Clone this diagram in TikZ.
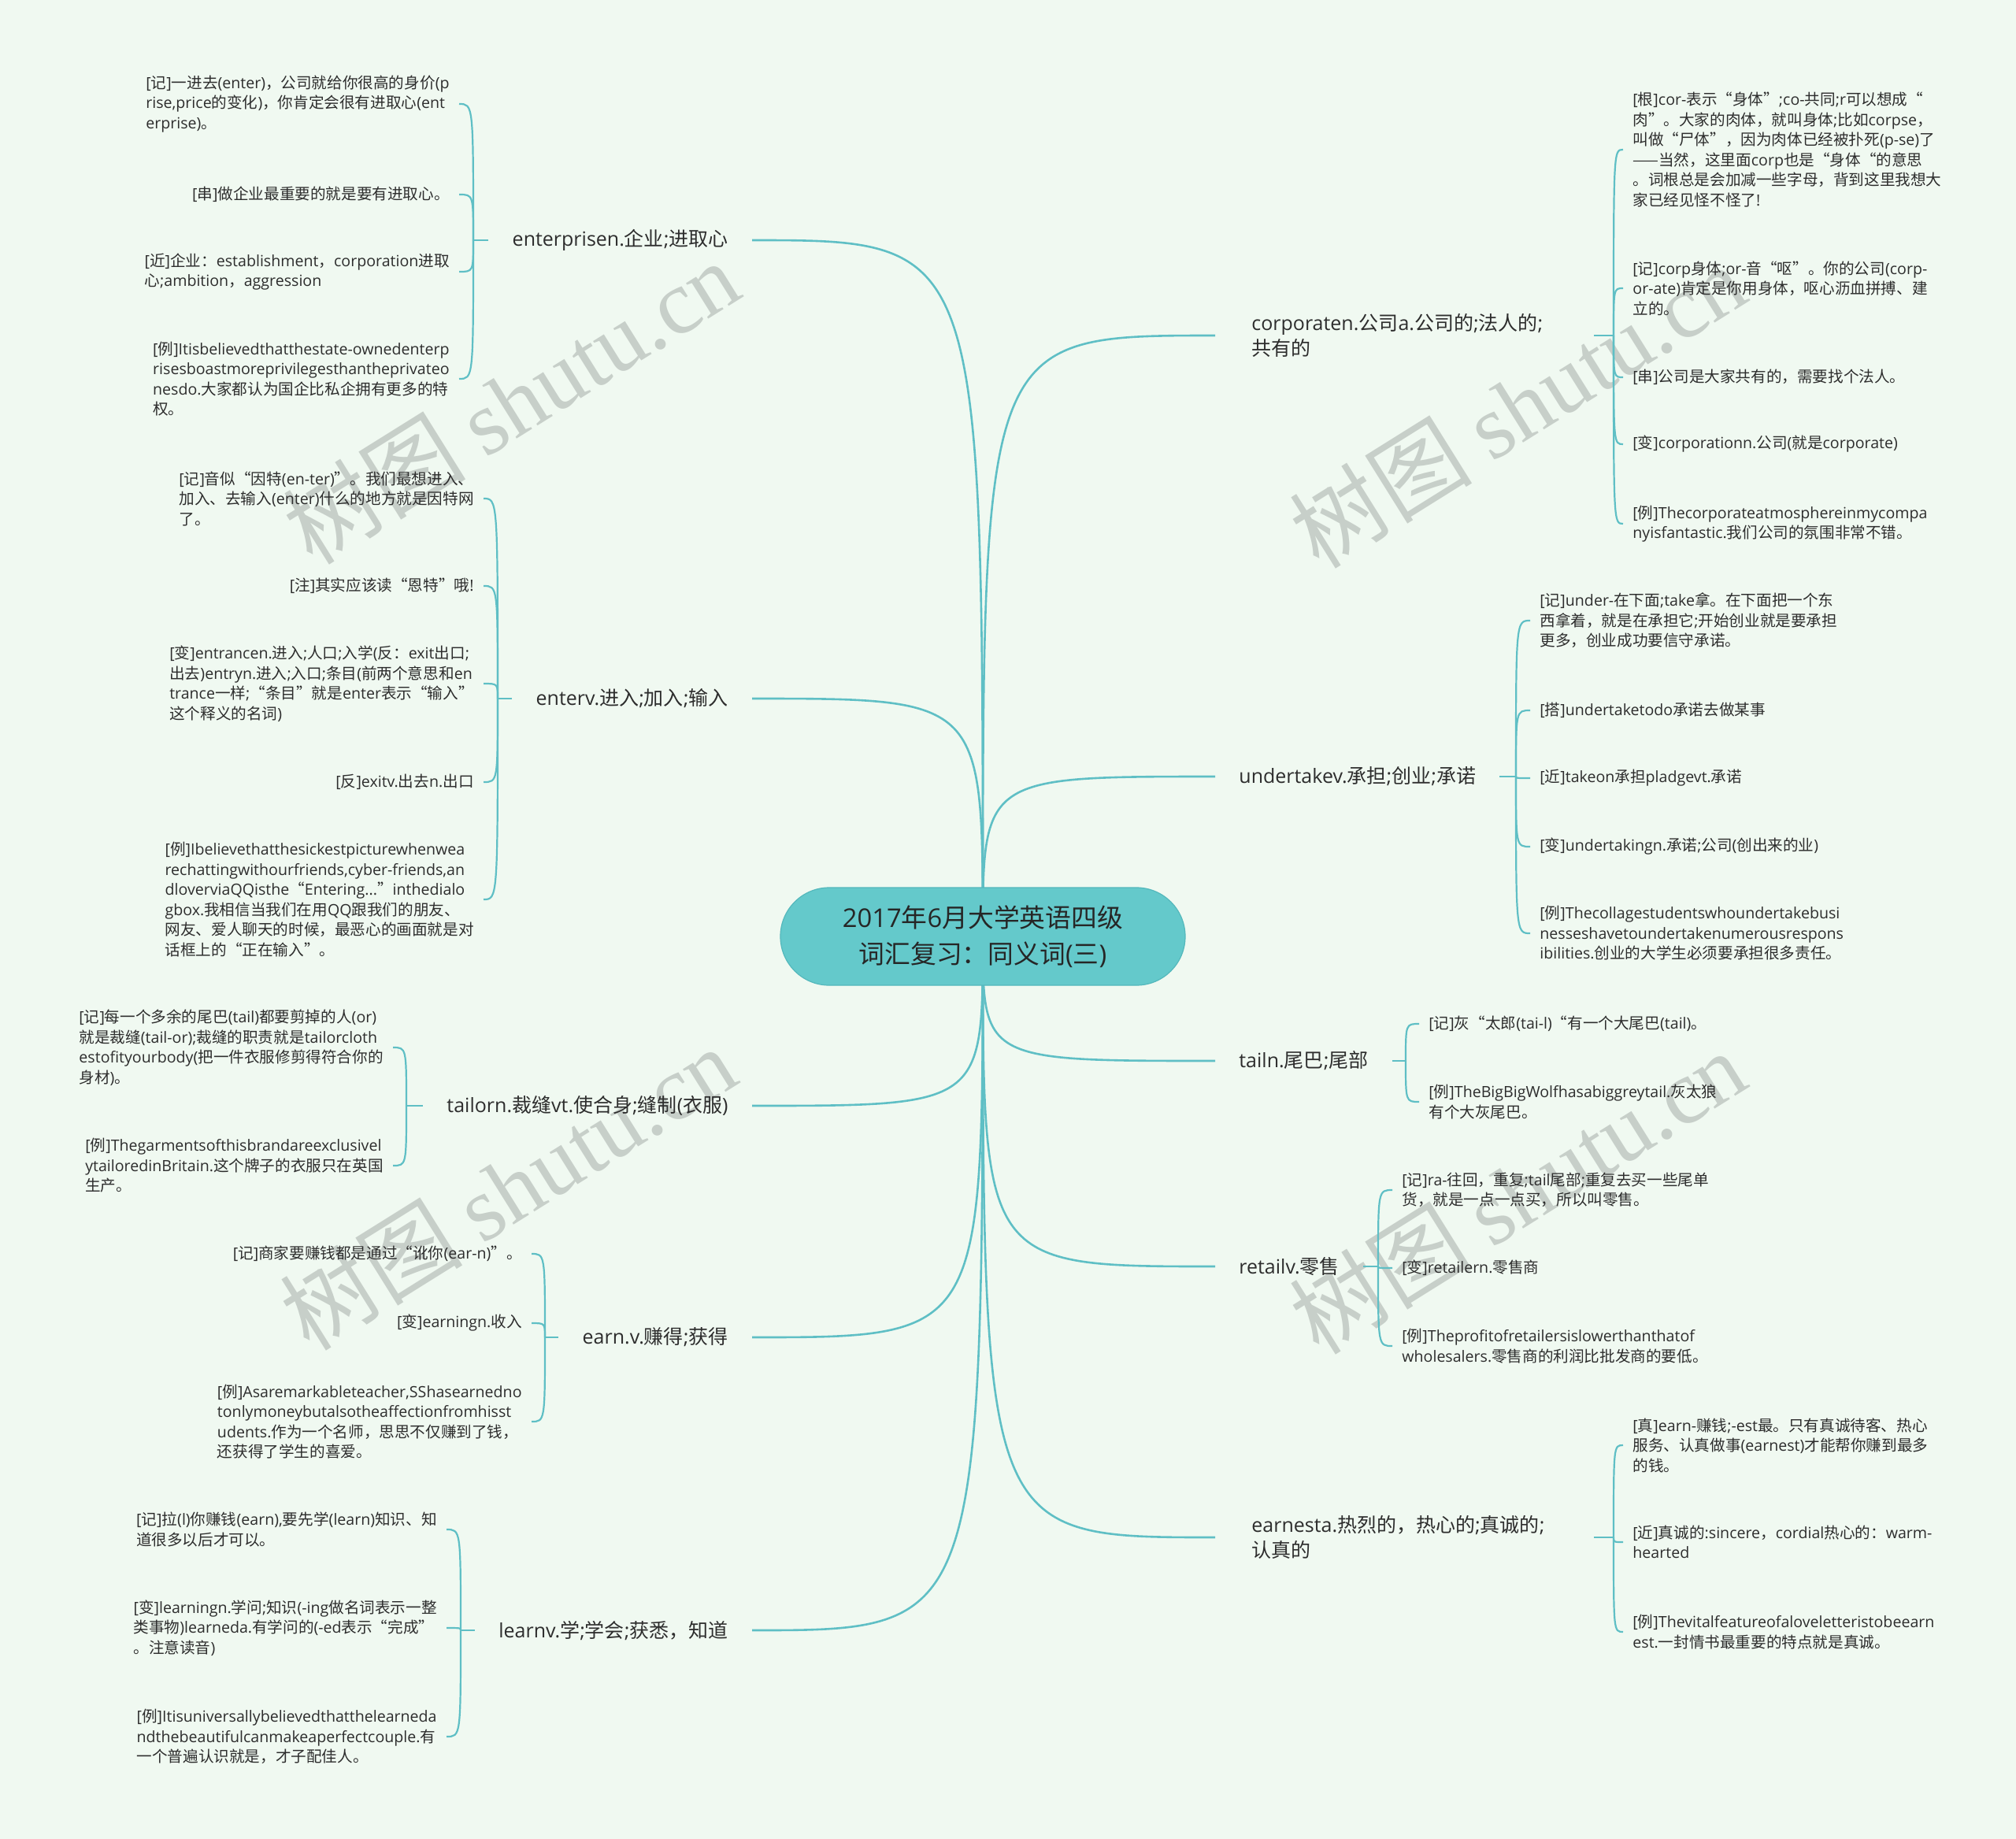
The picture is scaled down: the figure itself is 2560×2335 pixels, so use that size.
\documentclass[tikz,border=0pt]{standalone}
\usepackage{fontspec}
\setmainfont{Open Sans}
\newfontfamily\latinfont{Open Sans}
\newfontfamily\cjkfont{Noto Sans CJK SC}
\newfontfamily\wmfont{Liberation Serif}
\usetikzlibrary{positioning,calc}

\definecolor{bgc}{RGB}{240,249,241}
\definecolor{linkc}{RGB}{95,191,197}
\definecolor{rootfill}{RGB}{100,201,203}
\definecolor{rootline}{RGB}{84,184,188}
\definecolor{wmc}{RGB}{199,207,201}
\definecolor{txt}{RGB}{45,45,45}

% Chinese characters in the CJK face, the rest in Open Sans
\XeTeXinterchartokenstate=1
\newXeTeXintercharclass\cjkclass
\newcount\cjkcode
\newcommand\setcjkrange[2]{%
  \cjkcode=#1
  \loop
    \XeTeXcharclass\cjkcode=\cjkclass
  \ifnum\cjkcode<#2 \advance\cjkcode by 1
  \repeat}
\setcjkrange{"3000}{"303F}
\setcjkrange{"4E00}{"9FFF}
\setcjkrange{"FF00}{"FFEF}
\setcjkrange{"2014}{"2014}
\setcjkrange{"2018}{"201D}
\XeTeXinterchartoks 0 \cjkclass = {\cjkfont}
\XeTeXinterchartoks 4095 \cjkclass = {\cjkfont}
\XeTeXinterchartoks \cjkclass 0 = {\latinfont}
\XeTeXinterchartoks 4095 0 = {\latinfont}

\pgfdeclarelayer{wm}
\pgfdeclarelayer{back}
\pgfsetlayers{wm,back,main}

\begin{document}
\begin{tikzpicture}[x=0.5pt,y=-0.5pt,
  rootbox/.style={draw=rootline, line width=0.6pt, fill=rootfill, rounded corners=31pt, minimum width=257pt, minimum height=62pt, align=center, text=black!85, font=\fontsize{16.4}{23.3}\selectfont},
  topic/.style={inner xsep=15pt, inner ysep=2pt, align=left, text=txt, font=\fontsize{12.5}{16.3}\selectfont},
  widetopic/.style={topic, inner xsep=23pt, text width=194pt},
  note/.style={inner xsep=6pt, inner ysep=1pt, align=left, text=txt, font=\fontsize{9.8}{12.75}\selectfont},
  notel/.style={note, anchor=east},
  noter/.style={note, anchor=west},
  link/.style={draw=linkc, line width=1.3pt},
  twig/.style={draw=linkc, line width=1.1pt},
  wmark/.style={text=wmc, rotate=32, font=\fontsize{58}{58}\selectfont},
]
  \useasboundingbox (0,0) rectangle (2560,2335);

  \begin{pgfonlayer}{wm}
    \fill[bgc] (0,0) rectangle (2560,2335);
    \node[wmark] (wm1) at (649,510) {\XeTeXinterchartokenstate=0 \cjkfont 树图 \wmfont shutu.cn};
    \node[wmark] (wm2) at (1927,515) {\XeTeXinterchartokenstate=0 \cjkfont 树图 \wmfont shutu.cn};
    \node[wmark] (wm3) at (645,1508) {\XeTeXinterchartokenstate=0 \cjkfont 树图 \wmfont shutu.cn};
    \node[wmark] (wm4) at (1927,1513) {\XeTeXinterchartokenstate=0 \cjkfont 树图 \wmfont shutu.cn};
  \end{pgfonlayer}

  \node[rootbox] (root) at (1248,1189) {2017年6月大学英语四级\\词汇复习：同义词(三)};

  % left side
  \node[topic, anchor=east] (ep) at (955,305) {enterprisen.企业;进取心};
  \node[topic, anchor=east] (en) at (955,887) {enterv.进入;加入;输入};
  \node[topic, anchor=east] (tl) at (955,1404) {tailorn.裁缝vt.使合身;缝制(衣服)};
  \node[topic, anchor=east] (ea) at (955,1698) {earn.v.赚得;获得};
  \node[topic, anchor=east] (lr) at (955,2070) {learnv.学;学会;获悉，知道};

  % right side
  \node[widetopic, anchor=west] (cp) at (1543,426) {corporaten.公司a.公司的;法人的;\\共有的};
  \node[topic, anchor=west] (ut) at (1543,986) {undertakev.承担;创业;承诺};
  \node[topic, anchor=west] (ta) at (1543,1347) {tailn.尾巴;尾部};
  \node[topic, anchor=west] (rt) at (1543,1608) {retailv.零售};
  \node[widetopic, anchor=west] (et) at (1543,1952) {earnesta.热烈的，热心的;真诚的;\\认真的};

  \coordinate (epj) at (601,305);
  \coordinate (enj) at (632,887);
  \coordinate (tlj) at (516,1404);
  \coordinate (eaj) at (692,1698);
  \coordinate (lrj) at (585,2070);
  \coordinate (cpj) at (2049,426);
  \coordinate (utj) at (1925,986);
  \coordinate (taj) at (1785,1347);
  \coordinate (rtj) at (1750,1608);
  \coordinate (etj) at (2049,1952);

  \node[notel] (ep1) at (583,132) {[记]一进去(enter)，公司就给你很高的身价(p\\rise,price的变化)，你肯定会很有进取心(ent\\erprise)。};
  \node[notel] (ep2) at (583,247) {[串]做企业最重要的就是要有进取心。};
  \node[notel] (ep3) at (583,345) {[近]企业：establishment，corporation进取\\心;ambition，aggression};
  \node[notel] (ep4) at (583,481) {[例]Itisbelievedthatthestate-ownedenterp\\risesboastmoreprivilegesthantheprivateo\\nesdo.大家都认为国企比私企拥有更多的特\\权。};

  \node[notel] (en1) at (614,633) {[记]音似“因特(en-ter)”。我们最想进入、\\加入、去输入(enter)什么的地方就是因特网\\了。};
  \node[notel] (en2) at (614,744) {[注]其实应该读“恩特”哦!};
  \node[notel] (en3) at (614,868) {[变]entrancen.进入;人口;入学(反：exit出口;\\出去)entryn.进入;入口;条目(前两个意思和en\\trance一样;“条目”就是enter表示“输入”\\这个释义的名词)};
  \node[notel] (en4) at (614,993) {[反]exitv.出去n.出口};
  \node[notel] (en5) at (614,1142) {[例]Ibelievethatthesickestpicturewhenwea\\rechattingwithourfriends,cyber-friends,an\\dloverviaQQisthe“Entering...”inthedialo\\gbox.我相信当我们在用QQ跟我们的朋友、\\网友、爱人聊天的时候，最恶心的画面就是对\\话框上的“正在输入”。};

  \node[notel] (tl1) at (499,1330) {[记]每一个多余的尾巴(tail)都要剪掉的人(or)\\就是裁缝(tail-or);裁缝的职责就是tailorcloth\\estofityourbody(把一件衣服修剪得符合你的\\身材)。};
  \node[notel] (tl2) at (499,1480) {[例]Thegarmentsofthisbrandareexclusivel\\ytailoredinBritain.这个牌子的衣服只在英国\\生产。};

  \node[notel] (ea1) at (675,1592) {[记]商家要赚钱都是通过“讹你(ear-n)”。};
  \node[notel] (ea2) at (675,1680) {[变]earningn.收入};
  \node[notel] (ea3) at (675,1805) {[例]Asaremarkableteacher,SShasearnedno\\tonlymoneybutalsotheaffectionfromhisst\\udents.作为一个名师，思思不仅赚到了钱，\\还获得了学生的喜爱。};

  \node[notel] (lr1) at (567,1942) {[记]拉(l)你赚钱(earn),要先学(learn)知识、知\\道很多以后才可以。};
  \node[notel] (lr2) at (567,2067) {[变]learningn.学问;知识(-ing做名词表示一整\\类事物)learneda.有学问的(-ed表示“完成”\\。注意读音)};
  \node[notel] (lr3) at (567,2205) {[例]Itisuniversallybelievedthatthelearneda\\ndthebeautifulcanmakeaperfectcouple.有\\一个普遍认识就是，才子配佳人。};

  \node[noter] (cp1) at (2061,190) {[根]cor-表示“身体”;co-共同;r可以想成“\\肉”。大家的肉体，就叫身体;比如corpse，\\叫做“尸体”，因为肉体已经被扑死(p-se)了\\——当然，这里面corp也是“身体“的意思\\。词根总是会加减一些字母，背到这里我想大\\家已经见怪不怪了!};
  \node[noter] (cp2) at (2061,366) {[记]corp身体;or-音“呕”。你的公司(corp-\\or-ate)肯定是你用身体，呕心沥血拼搏、建\\立的。};
  \node[noter] (cp3) at (2061,479) {[串]公司是大家共有的，需要找个法人。};
  \node[noter] (cp4) at (2061,564) {[变]corporationn.公司(就是corporate)};
  \node[noter] (cp5) at (2061,665) {[例]Thecorporateatmosphereinmycompa\\nyisfantastic.我们公司的氛围非常不错。};

  \node[noter] (ut1) at (1943,788) {[记]under-在下面;take拿。在下面把一个东\\西拿着，就是在承担它;开始创业就是要承担\\更多，创业成功要信守承诺。};
  \node[noter] (ut2) at (1943,902) {[搭]undertaketodo承诺去做某事};
  \node[noter] (ut3) at (1943,988) {[近]takeon承担pladgevt.承诺};
  \node[noter] (ut4) at (1943,1075) {[变]undertakingn.承诺;公司(创出来的业)};
  \node[noter] (ut5) at (1943,1185) {[例]Thecollagestudentswhoundertakebusi\\nesseshavetoundertakenumerousrespons\\ibilities.创业的大学生必须要承担很多责任。};

  \node[noter] (ta1) at (1802,1300) {[记]灰“太郎(tai-l)“有一个大尾巴(tail)。};
  \node[noter] (ta2) at (1802,1399) {[例]TheBigBigWolfhasabiggreytail.灰太狼\\有个大灰尾巴。};

  \node[noter] (rt1) at (1768,1511) {[记]ra-往回，重复;tail尾部;重复去买一些尾单\\货，就是一点一点买，所以叫零售。};
  \node[noter] (rt2) at (1768,1610) {[变]retailern.零售商};
  \node[noter] (rt3) at (1768,1709) {[例]Theprofitofretailersislowerthanthatof\\wholesalers.零售商的利润比批发商的要低。};

  \node[noter] (et1) at (2061,1835) {[真]earn-赚钱;-est最。只有真诚待客、热心\\服务、认真做事(earnest)才能帮你赚到最多\\的钱。};
  \node[noter] (et2) at (2061,1958) {[近]真诚的:sincere，cordial热心的：warm-\\hearted};
  \node[noter] (et3) at (2061,2072) {[例]Thevitalfeatureofaloveletteristobeearn\\est.一封情书最重要的特点就是真诚。};

  \begin{pgfonlayer}{back}
    \foreach \t in {ep,en,tl,ea,lr}
      \draw[link] (root.center) .. controls (root.center |- \t.east) .. (\t.east);
    \foreach \t in {cp,ut,ta,rt,et}
      \draw[link] (root.center) .. controls (root.center |- \t.west) .. (\t.west);

    \foreach \t in {ep,en,tl,ea,lr}
      \draw[twig] (\t.west) -- (\t j);
    \foreach \t in {cp,ut,ta,rt,et}
      \draw[twig] (\t.east) -- (\t j);

    \foreach \n in {1,...,4}
      \draw[twig] (epj) .. controls (epj |- ep\n.east) .. (ep\n.east);
    \foreach \n in {1,...,5}
      \draw[twig] (enj) .. controls (enj |- en\n.east) .. (en\n.east);
    \foreach \n in {1,2}
      \draw[twig] (tlj) .. controls (tlj |- tl\n.east) .. (tl\n.east);
    \foreach \n in {1,2,3}
      \draw[twig] (eaj) .. controls (eaj |- ea\n.east) .. (ea\n.east);
    \foreach \n in {1,2,3}
      \draw[twig] (lrj) .. controls (lrj |- lr\n.east) .. (lr\n.east);

    \foreach \n in {1,...,5}
      \draw[twig] (cpj) .. controls (cpj |- cp\n.west) .. (cp\n.west);
    \foreach \n in {1,...,5}
      \draw[twig] (utj) .. controls (utj |- ut\n.west) .. (ut\n.west);
    \foreach \n in {1,2}
      \draw[twig] (taj) .. controls (taj |- ta\n.west) .. (ta\n.west);
    \foreach \n in {1,2,3}
      \draw[twig] (rtj) .. controls (rtj |- rt\n.west) .. (rt\n.west);
    \foreach \n in {1,2,3}
      \draw[twig] (etj) .. controls (etj |- et\n.west) .. (et\n.west);
  \end{pgfonlayer}
\end{tikzpicture}
\end{document}
